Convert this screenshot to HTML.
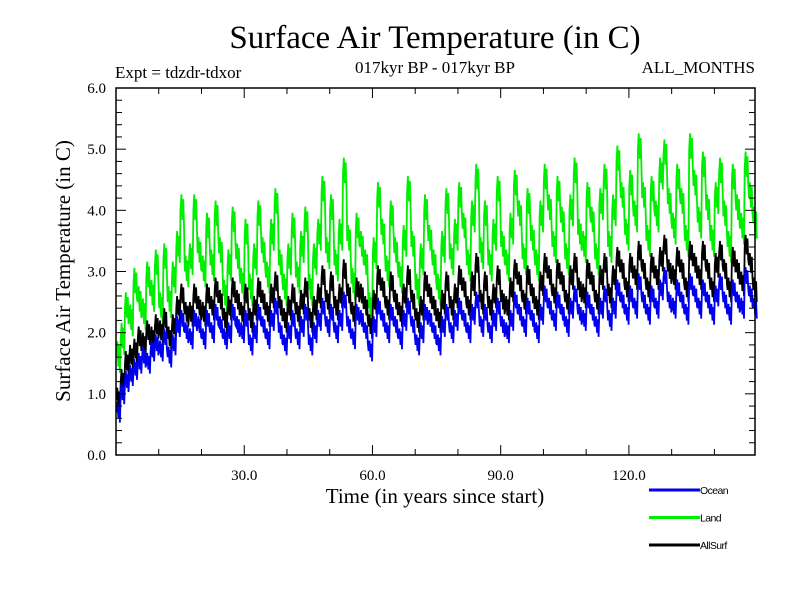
<!DOCTYPE html>
<html><head><meta charset="utf-8"><style>
body{margin:0;background:#fff;}
svg{display:block;}
.s{font-family:"Liberation Serif",serif;fill:#000;}
.a{font-family:"Liberation Sans",sans-serif;fill:#000;}
</style></head><body>
<svg id="c" width="800" height="600" viewBox="0 0 800 600">
<rect width="800" height="600" fill="#fff"/>
<text class="s" x="435" y="48" font-size="33" text-anchor="middle">Surface Air Temperature (in C)</text>
<text class="s" x="115" y="78" font-size="17">Expt = tdzdr-tdxor</text>
<text class="s" x="435" y="73" font-size="17" text-anchor="middle">017kyr BP - 017kyr BP</text>
<text class="s" x="755" y="73" font-size="17" text-anchor="end">ALL_MONTHS</text>
<text class="s" x="435" y="503" font-size="21" text-anchor="middle">Time (in years since start)</text>
<text class="s" transform="translate(70,271) rotate(-90)" font-size="21" text-anchor="middle">Surface Air Temperature (in C)</text>
<g id="plot"></g>
<g id="axes"></g>
<g id="legend"></g>
</svg>
<script>
const years = Array.from({length:150},(_, i)=>i+0.5);
const ocean = [0.7,1.0,1.2,1.3,1.4,1.5,1.6,1.5,1.7,1.8,
1.7,1.9,1.6,1.8,2.1,2.2,2.0,1.9,2.2,2.1,
1.9,2.2,2.0,2.3,2.1,1.9,2.0,2.3,2.1,2.0,
2.2,1.8,2.0,2.3,2.1,1.9,2.2,2.4,2.0,1.8,
2.0,2.2,1.9,2.1,2.3,1.8,2.0,2.2,2.4,2.1,
2.3,2.0,2.2,2.5,2.1,1.9,2.3,2.2,2.0,1.7,
2.1,2.4,2.2,2.0,2.3,2.1,1.9,2.2,2.4,2.1,
1.8,2.0,2.3,2.2,2.0,1.8,2.1,2.3,2.0,2.2,
2.4,2.2,2.0,2.3,2.5,2.1,2.3,2.0,2.2,2.4,
2.1,2.0,2.2,2.5,2.3,2.1,2.4,2.2,2.0,2.3,
2.6,2.4,2.2,2.5,2.3,2.1,2.4,2.6,2.3,2.2,
2.5,2.3,2.1,2.4,2.6,2.2,2.4,2.7,2.5,2.3,
2.6,2.4,2.8,2.5,2.3,2.6,2.4,2.7,2.9,2.5,
2.4,2.7,2.5,2.3,2.8,2.6,2.4,2.7,2.5,2.3,
2.6,2.8,2.5,2.3,2.7,2.5,2.4,2.9,2.6,2.4];
const allsurf = [0.9,1.2,1.5,1.6,1.7,1.9,1.8,2.0,1.9,2.1,
2.0,2.2,1.9,2.1,2.4,2.6,2.3,2.3,2.6,2.4,
2.3,2.6,2.4,2.7,2.5,2.2,2.4,2.7,2.5,2.3,
2.6,2.2,2.4,2.7,2.5,2.3,2.6,2.8,2.4,2.2,
2.4,2.6,2.3,2.5,2.7,2.2,2.4,2.6,2.9,2.5,
2.8,2.4,2.6,3.0,2.6,2.3,2.7,2.6,2.4,2.1,
2.5,2.9,2.7,2.4,2.8,2.5,2.3,2.6,2.9,2.5,
2.2,2.4,2.8,2.6,2.4,2.2,2.5,2.8,2.4,2.6,
2.9,2.7,2.4,2.8,3.1,2.5,2.8,2.4,2.6,2.9,
2.5,2.4,2.7,3.0,2.8,2.5,2.9,2.6,2.4,2.8,
3.1,2.9,2.6,3.0,2.8,2.5,2.9,3.1,2.7,2.6,
3.0,2.8,2.5,2.9,3.1,2.6,2.9,3.2,3.0,2.7,
3.1,2.9,3.3,3.0,2.7,3.1,2.9,3.2,3.4,3.0,
2.9,3.2,3.0,2.7,3.3,3.1,2.9,3.3,3.0,2.7,
3.1,3.3,3.0,2.7,3.2,3.0,2.8,3.4,3.1,2.7];
const land = [1.6,1.9,2.4,2.2,2.8,2.5,2.3,2.9,2.6,3.1,
2.4,3.2,2.5,2.9,3.4,4.0,3.0,3.2,4.0,3.3,
3.0,3.7,3.1,3.9,3.3,2.6,3.1,3.8,3.2,2.8,
3.6,2.7,3.2,3.9,3.3,2.9,3.6,4.1,3.1,2.7,
3.2,3.7,2.9,3.4,3.8,2.7,3.2,3.6,4.3,3.3,
4.0,3.1,3.6,4.6,3.5,2.8,3.7,3.4,3.1,2.4,
3.3,4.2,3.6,3.0,3.9,3.3,2.9,3.5,4.3,3.4,
2.7,3.2,4.0,3.5,3.1,2.7,3.4,4.1,3.2,3.6,
4.2,3.7,3.1,3.9,4.5,3.3,3.9,3.1,3.6,4.3,
3.4,3.1,3.7,4.4,3.9,3.2,4.1,3.5,3.1,3.9,
4.5,4.0,3.4,4.3,3.8,3.2,4.0,4.6,3.6,3.4,
4.2,3.8,3.2,4.1,4.5,3.4,4.0,4.8,4.2,3.6,
4.4,3.9,5.0,4.2,3.5,4.3,3.9,4.6,4.9,4.1,
3.7,4.5,4.1,3.5,5.0,4.4,3.8,4.7,4.0,3.5,
4.2,4.6,3.9,3.4,4.5,4.0,3.7,4.7,4.2,3.8];
const oceanSpread = 0.17;
const allsurfSpread = 0.2;
const landSpread = 0.26;
const xTicks = [30,60,90,120];
const xTickLabels = ["30.0","60.0","90.0","120.0"];
const yTicks = [0,1,2,3,4,5,6];
const yTickLabels = ["0.0","1.0","2.0","3.0","4.0","5.0","6.0"];
const seriesNames = ["Ocean","Land","AllSurf"];

const L=116,R=755,T=88,B=455,X0=0,X1=149.5,Y0=0,Y1=6;
const sx=v=>L+(v-X0)/(X1-X0)*(R-L);
const sy=v=>B-(v-Y0)/(Y1-Y0)*(B-T);
const NS="http://www.w3.org/2000/svg";
function mk(tag,attrs,parent){const e=document.createElementNS(NS,tag);for(const k in attrs)e.setAttribute(k,attrs[k]);parent.appendChild(e);return e;}
const plot=document.getElementById('plot'),axes=document.getElementById('axes'),leg=document.getElementById('legend');
function line(vals,spread,color,name){
  let d='';
  vals.forEach((v,i)=>{
    const a=years[i]-0.5;
    const pts=[[a+0.1,v],[a+0.3,v+spread],[a+0.55,v-spread*0.6],[a+0.75,v+spread*0.7],[a+0.92,v-spread]];
    pts.forEach((p,j)=>{d+=((i===0&&j===0)?'M':'L')+sx(p[0]).toFixed(1)+','+sy(p[1]).toFixed(1);});
  });
  const p=mk('path',{d:d,fill:'none',stroke:color,'stroke-width':1.8,'stroke-linejoin':'miter'},plot);
  
  
}
line(land,landSpread,'#00ee00','land-line');
line(allsurf,allsurfSpread,'#000000','allsurf-line');
line(ocean,oceanSpread,'#0000ee','ocean-line');
const frame=mk('rect',{x:L,y:T,width:R-L,height:B-T,fill:'none',stroke:'#000','stroke-width':1.5},axes);


for(let v=10;v<X1;v+=10){
  const x=sx(v),len=(v%30===0)?10:6;
  mk('line',{x1:x,y1:B,x2:x,y2:B-len,stroke:'#000'},axes);
  mk('line',{x1:x,y1:T,x2:x,y2:T+len,stroke:'#000'},axes);
}
for(let k=0;k<=30;k++){
  const v=k*0.2,y=sy(v),len=(k%5===0)?10:6;
  mk('line',{x1:L,y1:y,x2:L+len,y2:y,stroke:'#000'},axes);
  mk('line',{x1:R,y1:y,x2:R-len,y2:y,stroke:'#000'},axes);
}
xTicks.forEach((v,i)=>{
  const t=mk('text',{x:sx(v),y:480,'font-size':15,'text-anchor':'middle',class:'s'},axes);
  t.textContent=xTickLabels[i];
  
  
});
yTicks.forEach((v,i)=>{
  const t=mk('text',{x:106,y:sy(v)+5,'font-size':15,'text-anchor':'end',class:'s'},axes);
  t.textContent=yTickLabels[i];
  
  
});
const legColors=['#0000ee','#00ee00','#000000'];
seriesNames.forEach((n,i)=>{
  const y=490+i*27.5;
  const g=mk('g',{},leg);
  
  
  mk('line',{x1:649,y1:y,x2:700,y2:y,stroke:legColors[i],'stroke-width':3},g);
  const t=mk('text',{x:700,y:y+4,'font-size':10.5,class:'a','letter-spacing':'-0.6'},g);
  t.textContent=n;
});
</script>
</body></html>
